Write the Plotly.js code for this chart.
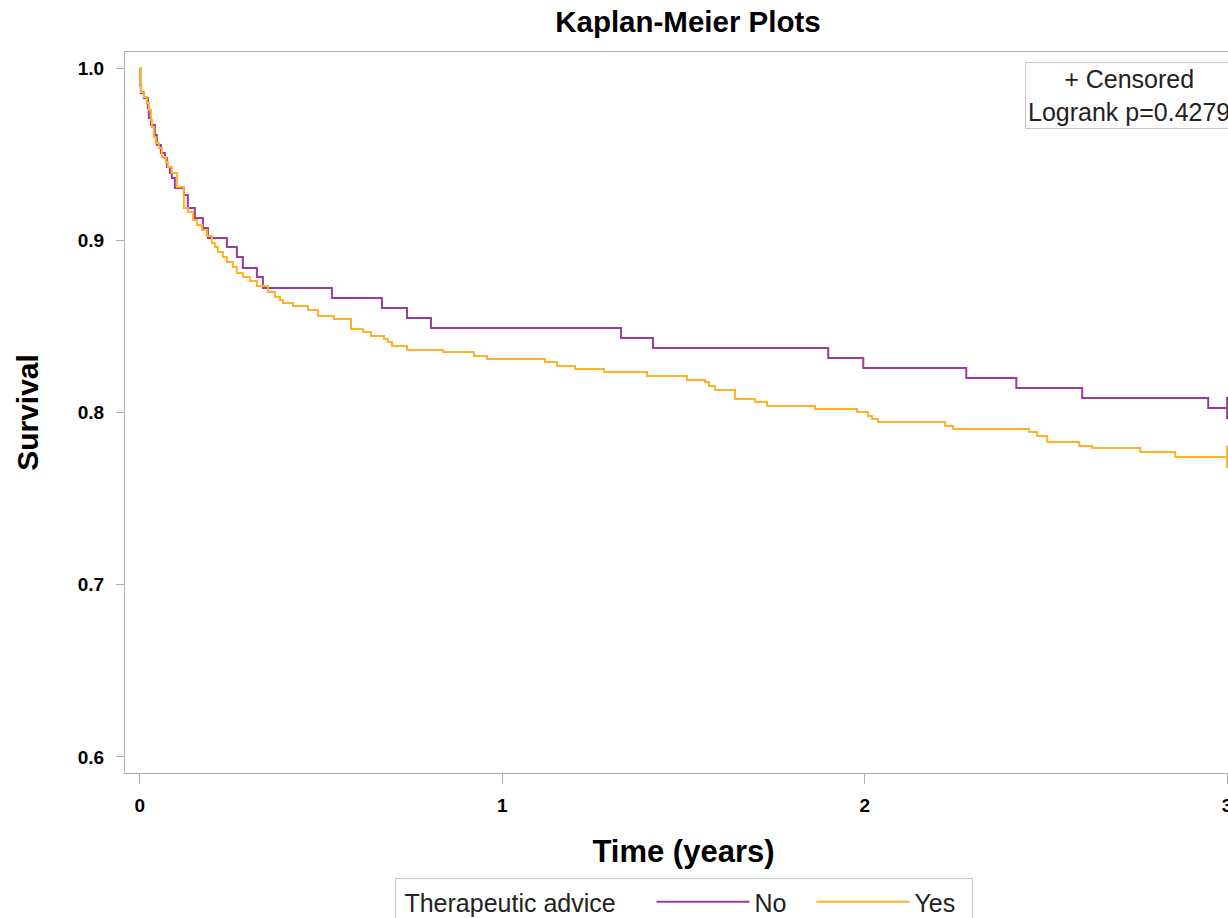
<!DOCTYPE html>
<html>
<head>
<meta charset="utf-8">
<script src="https://cdn.plot.ly/plotly-3.0.1.min.js"></script>
<style>
  html, body { margin: 0; padding: 0; overflow: hidden; background: #fff; }
  #chart { width: 1260px; height: 918px; }
</style>
</head>
<body>
<div id="chart"></div>
<script>
// Event times (years) and survival after each drop
const timeNo = [0.0014, 0.0028, 0.0110, 0.0221, 0.0248, 0.0304, 0.0414, 0.0469, 0.0580, 0.0690,
  0.0745, 0.0828, 0.0883, 0.0966, 0.1214, 0.1325, 0.1518, 0.1739, 0.1877, 0.2401,
  0.2677, 0.2843, 0.3229, 0.3395, 0.5299, 0.6680, 0.7370, 0.8032, 1.3276, 1.4159,
  1.8994, 1.9961, 2.2802, 2.4183, 2.6000, 2.9478];
const survNo = [0.9901, 0.9855, 0.9826, 0.9768, 0.9710, 0.9669, 0.9611, 0.9553, 0.9507, 0.9478,
  0.9425, 0.9390, 0.9361, 0.9303, 0.9263, 0.9187, 0.9129, 0.9071, 0.9013, 0.8961,
  0.8903, 0.8839, 0.8787, 0.8723, 0.8665, 0.8607, 0.8549, 0.8491, 0.8433, 0.8374,
  0.8316, 0.8258, 0.8200, 0.8142, 0.8084, 0.8026];

const timeYes = [0.0014, 0.0028, 0.0110, 0.0193, 0.0248, 0.0304, 0.0331, 0.0386, 0.0442, 0.0524,
  0.0607, 0.0718, 0.0773, 0.0883, 0.1021, 0.1214, 0.1325, 0.1463, 0.1573, 0.1711,
  0.1849, 0.1987, 0.2070, 0.2153, 0.2291, 0.2401, 0.2567, 0.2677, 0.2843, 0.3036,
  0.3229, 0.3533, 0.3726, 0.3864, 0.3947, 0.4223, 0.4637, 0.4913, 0.5355, 0.5824,
  0.6155, 0.6376, 0.6735, 0.6845, 0.6956, 0.7370, 0.8363, 0.9219, 0.9578, 1.1178,
  1.1510, 1.2007, 1.2807, 1.3994, 1.5098, 1.5595, 1.5705, 1.5871, 1.6423, 1.6975,
  1.7306, 1.8631, 1.9790, 2.0094, 2.0204, 2.0370, 2.2219, 2.2440, 2.4538, 2.4759,
  2.5034, 2.5918, 2.6276, 2.7601, 2.8567];
const survYes = [0.9913, 0.9861, 0.9832, 0.9797, 0.9756, 0.9698, 0.9657, 0.9599, 0.9565, 0.9536,
  0.9483, 0.9454, 0.9425, 0.9390, 0.9309, 0.9187, 0.9164, 0.9118, 0.9089, 0.9060,
  0.9025, 0.8984, 0.8961, 0.8932, 0.8903, 0.8874, 0.8845, 0.8810, 0.8787, 0.8763,
  0.8734, 0.8700, 0.8671, 0.8653, 0.8636, 0.8618, 0.8595, 0.8560, 0.8543, 0.8485,
  0.8467, 0.8444, 0.8427, 0.8409, 0.8386, 0.8363, 0.8351, 0.8328, 0.8311, 0.8293,
  0.8270, 0.8253, 0.8235, 0.8212, 0.8189, 0.8177, 0.8154, 0.8131, 0.8078, 0.8061,
  0.8038, 0.8020, 0.8003, 0.7980, 0.7962, 0.7945, 0.7922, 0.7904, 0.7887, 0.7864,
  0.7829, 0.7806, 0.7794, 0.7771, 0.7742];

const endTime = 3.0;              // last follow-up (censored)
const groupNames = ['No', 'Yes'];
const groupColors = ['#9e3a9e', '#ffb128'];
const xTickVals = [0, 1, 2, 3];
const yTickVals = [0.6, 0.7, 0.8, 0.9, 1.0];
const yTickText = ['0.6', '0.7', '0.8', '0.9', '1.0'];
const legendTitle = 'Therapeutic advice';
const pValueText = 'Logrank p=0.4279';

function stepTrace(times, surv, name, color) {
  return {
    type: 'scatter', mode: 'lines', name: name,
    x: [0].concat(times, [endTime]),
    y: [1].concat(surv, [surv[surv.length - 1]]),
    line: { shape: 'hv', color: color, width: 2 },
    hoverinfo: 'skip'
  };
}
function censorTrace(surv, color) {
  return {
    type: 'scatter', mode: 'markers', showlegend: false,
    x: [endTime], y: [surv[surv.length - 1]],
    marker: { symbol: 'cross-thin-open', size: 16, color: color, line: { color: color, width: 2 } },
    hoverinfo: 'skip'
  };
}

const data = [
  stepTrace(timeNo, survNo, groupNames[0], groupColors[0]),
  stepTrace(timeYes, survYes, groupNames[1], groupColors[1]),
  censorTrace(survNo, groupColors[0]),
  censorTrace(survYes, groupColors[1])
];

const axisCol = '#aab0b5';
const layout = {
  width: 1260, height: 918,
  margin: { l: 125, r: 18, t: 52, b: 145, autoexpand: false },
  paper_bgcolor: '#fff', plot_bgcolor: '#fff',
  font: { family: '"Liberation Sans", Arial, sans-serif', color: '#000' },
  title: {
    text: '<b>Kaplan-Meier Plots</b>',
    font: { size: 29.5, color: '#000' },
    x: 0.504, xref: 'paper', xanchor: 'center',
    y: 1 - 22 / 918, yref: 'container', yanchor: 'middle'
  },
  xaxis: {
    range: [-0.041, 3.041], tickvals: xTickVals, ticktext: xTickVals.map(String),
    showgrid: false, zeroline: false,
    showline: true, linecolor: axisCol, linewidth: 1, mirror: true,
    ticks: 'outside', ticklen: 10, tickcolor: axisCol, tickwidth: 1,
    tickfont: { size: 19, color: '#000', weight: 'bold' },
    ticklabelstandoff: 5,
    title: { text: '<b>Time (years)</b>', font: { size: 31, color: '#000' }, standoff: 25 }
  },
  yaxis: {
    range: [0.5907, 1.0093], tickvals: yTickVals, ticktext: yTickText,
    showgrid: false, zeroline: false,
    showline: true, linecolor: axisCol, linewidth: 1, mirror: true,
    ticks: 'outside', ticklen: 8, tickcolor: axisCol, tickwidth: 1,
    tickfont: { size: 19, color: '#000', weight: 'bold' },
    ticklabelstandoff: 8,
    title: { text: '<b>Survival</b>', font: { size: 30, color: '#000' }, standoff: 30 }
  },
  showlegend: true,
  legend: {
    orientation: 'h', x: 0.5, xanchor: 'center', xref: 'paper',
    y: (773 - 878) / 721, yanchor: 'top', yref: 'paper',
    bordercolor: '#c8c8c8', borderwidth: 1, bgcolor: '#fff',
    font: { size: 25, color: '#222' },
    title: { text: '&nbsp;' + legendTitle + '&nbsp;&nbsp;&nbsp;&nbsp;', font: { size: 25, color: '#222' }, side: 'left' },
    entrywidth: 52, itemwidth: 93
  },
  annotations: [{
    xref: 'paper', yref: 'paper', x: 0.9915, y: 0.986, xanchor: 'right', yanchor: 'top',
    text: '+ Censored<br>' + pValueText, showarrow: false, align: 'center',
    font: { size: 25, color: '#222' },
    bordercolor: '#c8c8c8', borderwidth: 1, borderpad: 2, bgcolor: '#fff'
  }]
};

Plotly.newPlot('chart', data, layout, { staticPlot: true, displayModeBar: false });
</script>
</body>
</html>
